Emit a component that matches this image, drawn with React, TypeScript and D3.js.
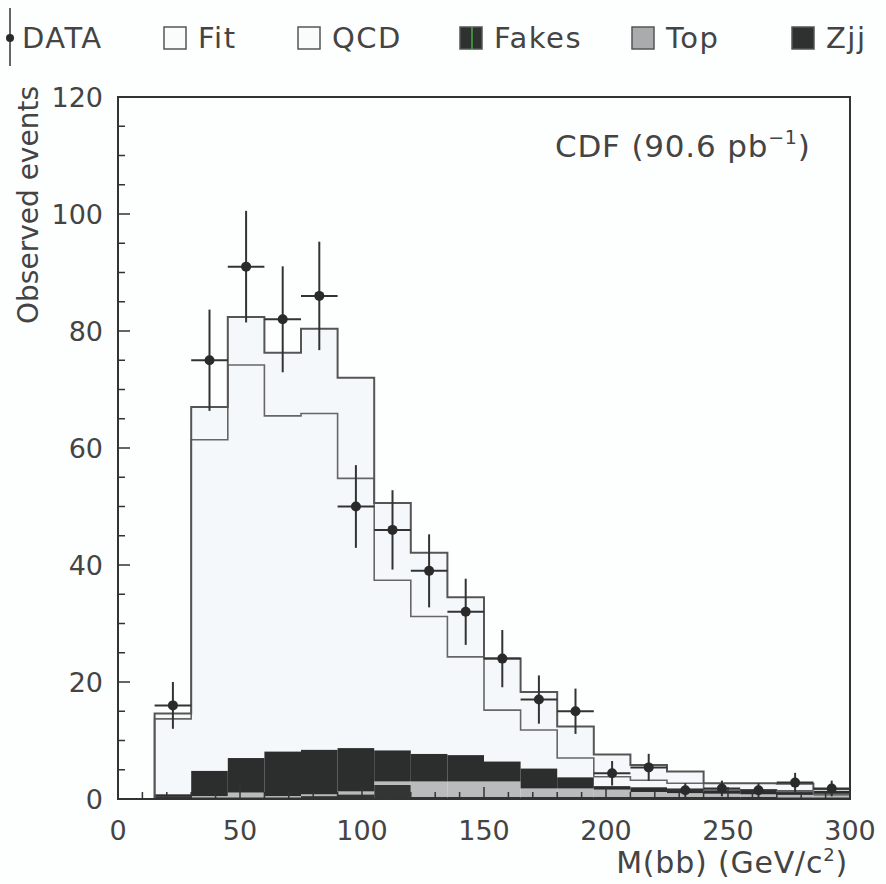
import React from "react";
import * as d3 from "d3";

const binLow = [15, 30, 45, 60, 75, 90, 105, 120, 135, 150, 165, 180, 195, 210, 225, 240, 255, 270, 285];
const binWidth = 15;
const dataCounts = [16, 75, 91, 82, 86, 50, 46, 39, 32, 24, 17, 15, 4.4, 5.4, 1.5, 1.8, 1.5, 2.8, 1.8];
const fitValues = [14.6, 67, 82.4, 76.3, 80.4, 72, 50.6, 42.1, 34.5, 24.0, 18.3, 12.4, 7.6, 5.8, 4.7, 2.7, 2.7, 2.6, 1.7];
const qcdValues = [13.7, 61.4, 74.2, 65.5, 65.9, 54.8, 37.4, 31.2, 24.3, 15.2, 11.8, 7.0, 3.8, 3.2, 2.7, 1.5, 1.5, 1.3, 0.8];
const fakesValues = [0.5, 0.3, 0.3, 0.3, 0.5, 0.8, 2.4, 0.4, 0.4, 0.4, 0.4, 0.4, 0.4, 0.4, 0.4, 0.4, 0.4, 0.3, 0.3];
const topValues = [0, 0.2, 0.8, 0.2, 0.3, 0.5, 0.6, 2.6, 2.6, 2.6, 1.4, 1.4, 1.2, 0.8, 0.6, 0.5, 0.4, 0.4, 0.3];
const zjjValues = [0.3, 4.3, 5.9, 7.6, 7.6, 7.4, 5.3, 4.7, 4.5, 3.4, 3.4, 1.9, 0.6, 0.8, 0.8, 0.7, 0.8, 0.8, 0.8];

const xTicksMajor = [0, 50, 100, 150, 200, 250, 300];
const yTicksMajor = [0, 20, 40, 60, 80, 100, 120];

const legendItems = [
  { key: "DATA", label: "DATA", x: 18 },
  { key: "Fit", label: "Fit", x: 164 },
  { key: "QCD", label: "QCD", x: 298 },
  { key: "Fakes", label: "Fakes", x: 460 },
  { key: "Top", label: "Top", x: 632 },
  { key: "Zjj", label: "Zjj", x: 792 },
];

const W = 886;
const H = 884;
const FONT = "'DejaVu Sans', sans-serif";
const INK = "#333";

export default function App() {
  const x = d3.scaleLinear().domain([0, 300]).range([118, 850]);
  const y = d3.scaleLinear().domain([0, 120]).range([799, 97]);

  const stepPath = (vals: number[]) => {
    const pts: [number, number][] = [];
    pts.push([binLow[0], 0]);
    vals.forEach((v, i) => {
      pts.push([binLow[i], v]);
      pts.push([binLow[i] + binWidth, v]);
    });
    pts.push([binLow[binLow.length - 1] + binWidth, 0]);
    return d3.line<[number, number]>().x((d) => x(d[0])).y((d) => y(d[1]))(pts) || "";
  };

  const fakesBase = binLow.map(() => 0);
  const topBase = fakesValues.slice();
  const zjjBase = fakesValues.map((f, i) => f + topValues[i]);

  const stackRects = (vals: number[], base: number[], fill: string, key: string) =>
    vals.map((v, i) => (
      <rect
        key={key + i}
        x={x(binLow[i])}
        width={x(binLow[i] + binWidth) - x(binLow[i])}
        y={y(base[i] + v)}
        height={y(base[i]) - y(base[i] + v)}
        fill={fill}
      />
    ));

  const minorY = d3.range(0, 121, 5);
  const minorX = d3.range(0, 301, 10);

  return (
    <svg width={W} height={H} style={{ position: "absolute", left: 0, top: 0, background: "#fff" }} fontFamily={FONT}>
      <rect x={0} y={0} width={W} height={H} fill="#fdfefe" />
      <path d={stepPath(fitValues)} fill="#f4f8fa" stroke="none" />
      {stackRects(fakesValues, fakesBase, "#333535", "f")}
      {stackRects(topValues, topBase, "#b9bcbc", "t")}
      {stackRects(zjjValues, zjjBase, "#2c2e2e", "z")}
      <path d={stepPath(qcdValues)} fill="none" stroke="#666" strokeWidth={1.6} />
      <path d={stepPath(fitValues)} fill="none" stroke="#555" strokeWidth={2} />
      {dataCounts.map((v, i) => {
        const cx = x(binLow[i] + binWidth / 2);
        const e = Math.sqrt(v);
        return (
          <g key={"d" + i}>
            <line x1={cx} x2={cx} y1={y(v + e)} y2={y(Math.max(0, v - e))} stroke={INK} strokeWidth={2} />
            <line x1={x(binLow[i])} x2={x(binLow[i] + binWidth)} y1={y(v)} y2={y(v)} stroke={INK} strokeWidth={2} />
            <circle cx={cx} cy={y(v)} r={5} fill="#2a2a2a" />
          </g>
        );
      })}
      <rect x={x(0)} y={y(120)} width={x(300) - x(0)} height={y(0) - y(120)} fill="none" stroke={INK} strokeWidth={2} />
      {minorY.map((t) => (
        <line key={"yt" + t} x1={x(0)} x2={x(0) + (t % 20 === 0 ? 12 : 7)} y1={y(t)} y2={y(t)} stroke={INK} strokeWidth={1.5} />
      ))}
      {minorX.map((t) => (
        <line key={"xt" + t} x1={x(t)} x2={x(t)} y1={y(0)} y2={y(0) - (t % 50 === 0 ? 12 : 7)} stroke={INK} strokeWidth={1.5} />
      ))}
      {yTicksMajor.map((t) => (
        <text key={"yl" + t} x={103} y={y(t)} dy="0.36em" textAnchor="end" fontSize={27} fill="#444">
          {t}
        </text>
      ))}
      {xTicksMajor.map((t) => (
        <text key={"xl" + t} x={x(t)} y={840} textAnchor="middle" fontSize={27} fill="#444">
          {t}
        </text>
      ))}
      <text x={848} y={873} textAnchor="end" fontSize={30} letterSpacing={0.8} fill="#444">
        M(bb) (GeV/c<tspan dy={-12} fontSize={18}>2</tspan><tspan dy={12}>)</tspan>
      </text>
      <text transform={`translate(38,${205}) rotate(-90)`} textAnchor="middle" fontSize={28} fill="#444">
        Observed events
      </text>
      <text x={555} y={157} fontSize={31} letterSpacing={0.8} fill="#444">
        CDF (90.6 pb<tspan dy={-13} fontSize={19}>−1</tspan><tspan dy={13}>)</tspan>
      </text>
      {legendItems.map((it) => {
        const ty = 38;
        let sym: React.ReactNode = null;
        let tx = it.x + 34;
        if (it.key === "DATA") {
          sym = (
            <g>
              <line x1={it.x - 8} x2={it.x - 8} y1={8} y2={66} stroke={INK} strokeWidth={1.5} />
              <circle cx={it.x - 8} cy={ty} r={4} fill="#2a2a2a" />
            </g>
          );
          tx = it.x + 4;
        } else {
          const fill =
            it.key === "Fit" || it.key === "QCD" ? "#fafcfc" : it.key === "Top" ? "#a9acac" : "#2f3131";
          sym = (
            <g>
              <rect x={it.x} y={27} width={22} height={22} fill={fill} stroke="#555" strokeWidth={1.5} />
              {it.key === "Fakes" && <line x1={it.x + 12} x2={it.x + 12} y1={27} y2={49} stroke="#3fae3f" strokeWidth={1.5} />}
            </g>
          );
        }
        return (
          <g key={it.key}>
            {sym}
            <text x={tx} y={ty} dy="0.36em" fontSize={29} letterSpacing={1.5} fill="#444">
              {it.label}
            </text>
          </g>
        );
      })}
    </svg>
  );
}
